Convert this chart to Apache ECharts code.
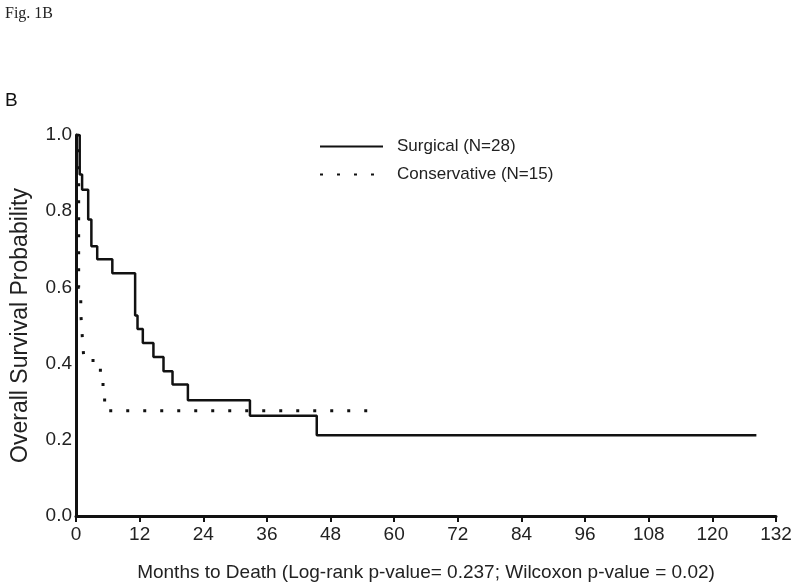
<!DOCTYPE html>
<html>
<head>
<meta charset="utf-8">
<script src="https://cdn.jsdelivr.net/npm/echarts@6/dist/echarts.min.js"></script>
<style>
  html, body { margin: 0; padding: 0; background: #fff; }
  #km_chart { width: 800px; height: 587px; }
</style>
</head>
<body>
<div id="km_chart"></div>
<script>
  // Surgical group: [months, survival probability] at each drop
  var surgicalMonths = [0, 0.7, 1.15, 2.3, 2.9, 4.0, 6.85, 11.15, 11.6, 12.6, 14.6, 16.5, 18.2, 21.1, 32.8, 45.4, 128.3]
  var surgicalSurv = [1.0, 0.896, 0.856, 0.778, 0.708, 0.674, 0.637, 0.526, 0.491, 0.454, 0.417, 0.380, 0.345, 0.304, 0.263, 0.212, 0.212]

  // Conservative group
  var conservativeMonths = [0, 0.5, 0.9, 1.2, 1.5, 4.6, 5.4, 55.7]
  var conservativeSurv = [1.0, 0.6, 0.533, 0.467, 0.408, 0.345, 0.276, 0.276]

  var seriesNames = ['Surgical (N=28)', 'Conservative (N=15)']
  var xTicks = [0, 12, 24, 36, 48, 60, 72, 84, 96, 108, 120, 132]
  var yTicks = [0.0, 0.2, 0.4, 0.6, 0.8, 1.0]

  function pairs (xs, ys) {
    var out = []
    for (var i = 0; i < xs.length; i++) {
      out.push([xs[i], ys[i]])
    }
    return out
  }

  var narrow = '"Liberation Sans Narrow", "Arial Narrow", "Liberation Sans", Arial, sans-serif'
  var sans = '"Liberation Sans", Arial, sans-serif'

  var myChart = echarts.init(document.getElementById('km_chart'), null, {renderer: 'canvas'})
  var option = {
    backgroundColor: '#fff',
    animation: false,
    title: [
      {
        text: 'Fig. 1B',
        left: 0,
        top: 1,
        textStyle: {fontFamily: '"Liberation Serif", "Times New Roman", serif', fontSize: 16, fontWeight: 'normal', color: '#222'}
      },
      {
        text: 'B',
        left: 0,
        top: 86,
        textStyle: {fontFamily: sans, fontSize: 19, fontWeight: 'normal', color: '#111'}
      }
    ],
    legend: {
      data: seriesNames,
      orient: 'vertical',
      left: 314,
      top: 133,
      itemWidth: 63,
      itemHeight: 14,
      itemGap: 11,
      itemStyle: {opacity: 0},
      textStyle: {fontFamily: sans, fontSize: 17, color: '#222', padding: [0, 0, 0, 9]}
    },
    grid: {
      left: 76,
      right: 24,
      top: 135,
      bottom: 69
    },
    xAxis: {
      type: 'value',
      min: xTicks[0],
      max: xTicks[xTicks.length - 1],
      interval: 12,
      name: 'Months to Death (Log-rank p-value= 0.237; Wilcoxon p-value = 0.02)',
      nameLocation: 'middle',
      nameGap: 47,
      nameTextStyle: {fontFamily: narrow, fontSize: 19, color: '#222'},
      axisLine: {lineStyle: {color: '#111', width: 3}},
      axisTick: {show: true, length: 6, lineStyle: {color: '#111', width: 2}},
      axisLabel: {fontFamily: narrow, fontSize: 19, color: '#222', margin: 9},
      splitLine: {show: false}
    },
    yAxis: {
      type: 'value',
      min: yTicks[0],
      max: yTicks[yTicks.length - 1],
      interval: 0.2,
      name: 'Overall Survival Probability',
      nameLocation: 'middle',
      nameGap: 44,
      nameTextStyle: {fontFamily: sans, fontSize: 23, color: '#222'},
      axisLine: {show: true, lineStyle: {color: '#111', width: 3}},
      axisTick: {show: false},
      axisLabel: {
        fontFamily: sans,
        fontSize: 19,
        color: '#222',
        margin: 4,
        formatter: function (v) { return v.toFixed(1) }
      },
      splitLine: {show: false}
    },
    series: [
      {
        name: seriesNames[0],
        type: 'line',
        step: 'end',
        symbol: 'none',
        lineStyle: {color: '#111', width: 2.5},
        itemStyle: {color: '#111'},
        data: pairs(surgicalMonths, surgicalSurv)
      },
      {
        name: seriesNames[1],
        type: 'line',
        step: 'end',
        symbol: 'none',
        lineStyle: {color: '#111', width: 3, type: [3, 14]},
        itemStyle: {color: '#111'},
        data: pairs(conservativeMonths, conservativeSurv)
      }
    ]
  }
  myChart.setOption(option, true)
</script>
</body>
</html>
